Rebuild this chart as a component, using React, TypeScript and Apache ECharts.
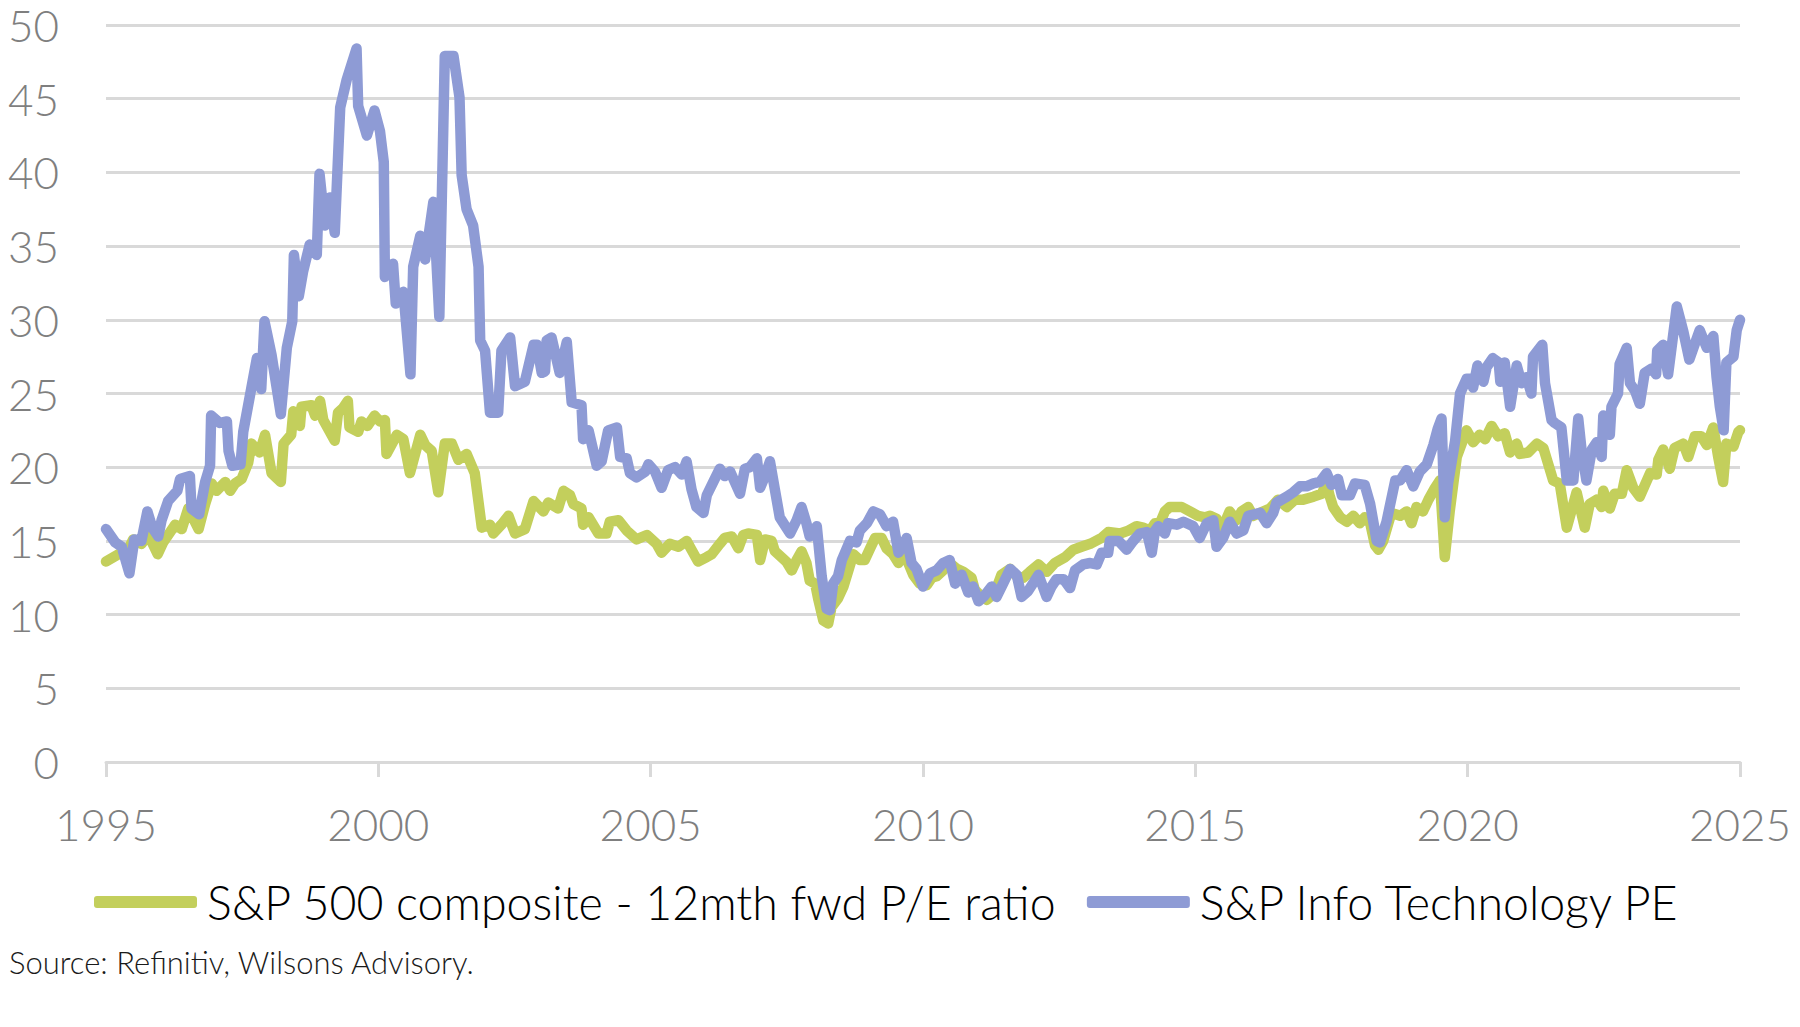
import React, { useEffect, useRef } from "react";
import * as echarts from "echarts";

// [decimal year, P/E]
const compositePE: [number, number][] = [
  [1995.0, 13.6], [1995.23, 14.1], [1995.38, 14.2], [1995.5, 15.1], [1995.65, 14.8], [1995.78, 15.4],
  [1995.95, 14.1], [1996.05, 14.9], [1996.27, 16.1], [1996.39, 15.8], [1996.51, 17.2], [1996.7, 15.8],
  [1996.82, 17.5], [1996.94, 18.9], [1997.03, 18.4], [1997.19, 19.0], [1997.28, 18.4], [1997.37, 18.9],
  [1997.49, 19.2], [1997.61, 20.3], [1997.67, 21.6], [1997.82, 21.0], [1997.92, 22.2], [1998.04, 19.6],
  [1998.21, 19.0], [1998.26, 21.6], [1998.4, 22.2], [1998.44, 23.8], [1998.56, 22.8], [1998.59, 24.1],
  [1998.77, 24.2], [1998.84, 23.5], [1998.93, 24.5], [1998.99, 23.2], [1999.2, 21.8], [1999.26, 23.7],
  [1999.35, 24.0], [1999.44, 24.5], [1999.47, 22.7], [1999.63, 22.4], [1999.69, 23.1], [1999.8, 22.8],
  [1999.93, 23.5], [2000.03, 23.1], [2000.12, 23.2], [2000.15, 20.9], [2000.34, 22.2], [2000.46, 21.9],
  [2000.58, 19.6], [2000.77, 22.2], [2000.86, 21.5], [2000.98, 21.1], [2001.1, 18.3], [2001.22, 21.6],
  [2001.35, 21.6], [2001.47, 20.5], [2001.62, 20.9], [2001.77, 19.6], [2001.9, 15.9], [2002.05, 16.1],
  [2002.11, 15.5], [2002.26, 16.1], [2002.39, 16.7], [2002.51, 15.5], [2002.69, 15.8], [2002.85, 17.7],
  [2003.03, 17.0], [2003.12, 17.6], [2003.3, 17.2], [2003.4, 18.4], [2003.52, 18.1], [2003.58, 17.5],
  [2003.73, 17.2], [2003.76, 16.1], [2003.86, 16.6], [2004.04, 15.5], [2004.19, 15.5], [2004.25, 16.3],
  [2004.41, 16.4], [2004.56, 15.7], [2004.74, 15.1], [2004.93, 15.4], [2005.11, 14.8], [2005.2, 14.2],
  [2005.35, 14.8], [2005.51, 14.6], [2005.66, 15.0], [2005.75, 14.4], [2005.87, 13.6], [2006.03, 13.9],
  [2006.12, 14.1], [2006.27, 14.8], [2006.36, 15.2], [2006.49, 15.3], [2006.61, 14.5], [2006.7, 15.4],
  [2006.79, 15.5], [2006.95, 15.4], [2007.01, 13.7], [2007.1, 15.1], [2007.22, 15.0], [2007.28, 14.3],
  [2007.4, 13.9], [2007.49, 13.6], [2007.59, 13.0], [2007.68, 13.7], [2007.77, 14.3], [2007.86, 13.5],
  [2007.92, 12.3], [2008.02, 12.1], [2008.08, 11.0], [2008.17, 9.6], [2008.26, 9.4], [2008.32, 10.5],
  [2008.44, 11.1], [2008.54, 11.9], [2008.63, 13.0], [2008.72, 14.1], [2008.84, 13.7], [2008.93, 13.7],
  [2009.03, 14.5], [2009.12, 15.2], [2009.24, 15.2], [2009.33, 14.5], [2009.45, 14.1], [2009.55, 13.5],
  [2009.64, 14.1], [2009.73, 13.5], [2009.82, 12.7], [2009.94, 12.1], [2010.07, 12.0], [2010.16, 12.5],
  [2010.25, 12.6], [2010.37, 13.0], [2010.49, 13.5], [2010.62, 13.1], [2010.74, 12.9], [2010.89, 12.5],
  [2010.95, 11.7], [2011.08, 11.2], [2011.17, 11.0], [2011.32, 11.5], [2011.44, 12.7], [2011.6, 13.1],
  [2011.72, 12.6], [2011.84, 12.5], [2011.96, 12.9], [2012.12, 13.4], [2012.27, 12.9], [2012.42, 13.5],
  [2012.61, 13.9], [2012.76, 14.4], [2012.91, 14.6], [2013.07, 14.8], [2013.28, 15.2], [2013.4, 15.6],
  [2013.62, 15.5], [2013.77, 15.7], [2013.92, 16.0], [2014.04, 15.9], [2014.17, 15.7], [2014.26, 16.2],
  [2014.35, 16.2], [2014.44, 17.0], [2014.53, 17.3], [2014.75, 17.3], [2014.9, 17.0], [2015.05, 16.7],
  [2015.18, 16.6], [2015.27, 16.7], [2015.39, 16.5], [2015.48, 15.7], [2015.63, 17.0], [2015.76, 16.4],
  [2015.85, 17.0], [2015.97, 17.3], [2016.06, 16.7], [2016.19, 16.9], [2016.37, 17.2], [2016.52, 17.8],
  [2016.68, 17.3], [2016.83, 17.8], [2016.98, 17.8], [2017.17, 18.0], [2017.32, 18.2], [2017.41, 18.9],
  [2017.47, 18.0], [2017.53, 17.3], [2017.66, 16.6], [2017.78, 16.3], [2017.9, 16.7], [2018.02, 16.2],
  [2018.11, 16.6], [2018.21, 16.2], [2018.3, 14.7], [2018.36, 14.4], [2018.45, 15.0], [2018.6, 16.9],
  [2018.76, 16.7], [2018.88, 17.0], [2018.97, 16.2], [2019.06, 17.3], [2019.18, 17.0], [2019.28, 17.8],
  [2019.4, 18.6], [2019.49, 19.1], [2019.58, 13.9], [2019.67, 17.0], [2019.8, 20.7], [2019.89, 21.6],
  [2019.98, 22.5], [2020.1, 21.7], [2020.22, 22.2], [2020.32, 21.9], [2020.44, 22.8], [2020.56, 22.1],
  [2020.68, 22.3], [2020.78, 21.0], [2020.9, 21.6], [2020.96, 20.9], [2021.11, 21.0], [2021.27, 21.6],
  [2021.39, 21.3], [2021.48, 20.2], [2021.57, 19.1], [2021.69, 18.9], [2021.82, 15.9], [2022.0, 18.3],
  [2022.15, 15.9], [2022.24, 17.5], [2022.37, 17.8], [2022.46, 17.3], [2022.49, 18.4], [2022.61, 17.2],
  [2022.7, 18.2], [2022.83, 18.2], [2022.92, 19.8], [2023.04, 18.6], [2023.16, 18.0], [2023.35, 19.6],
  [2023.47, 19.5], [2023.5, 20.5], [2023.59, 21.2], [2023.71, 19.9], [2023.8, 21.3], [2023.96, 21.6],
  [2024.05, 20.7], [2024.17, 22.1], [2024.29, 22.1], [2024.39, 21.5], [2024.51, 22.7], [2024.6, 20.7],
  [2024.69, 19.0], [2024.75, 21.6], [2024.88, 21.4], [2024.97, 22.4], [2025.0, 22.5],
];

const techPE: [number, number][] = [
  [1995.0, 15.8], [1995.17, 14.9], [1995.29, 14.6], [1995.43, 12.8], [1995.52, 15.1], [1995.65, 15.0],
  [1995.76, 17.0], [1995.85, 15.9], [1995.96, 15.3], [1996.02, 16.4], [1996.14, 17.7], [1996.31, 18.4],
  [1996.36, 19.2], [1996.54, 19.4], [1996.57, 17.2], [1996.71, 16.8], [1996.82, 19.0], [1996.91, 20.1],
  [1996.93, 23.5], [1997.09, 23.0], [1997.22, 23.1], [1997.25, 21.1], [1997.32, 20.1], [1997.47, 20.2],
  [1997.52, 22.4], [1997.61, 24.2], [1997.77, 27.4], [1997.85, 25.3], [1997.91, 29.9], [1998.04, 27.6],
  [1998.21, 23.6], [1998.32, 28.1], [1998.42, 29.9], [1998.45, 34.4], [1998.54, 31.6], [1998.62, 33.3],
  [1998.74, 35.1], [1998.87, 34.4], [1998.92, 39.9], [1999.02, 36.4], [1999.11, 38.3], [1999.2, 35.9],
  [1999.3, 44.4], [1999.42, 46.3], [1999.6, 48.4], [1999.63, 44.5], [1999.79, 42.5], [1999.93, 44.2],
  [2000.03, 42.8], [2000.1, 40.7], [2000.12, 32.9], [2000.27, 33.8], [2000.32, 31.1], [2000.46, 31.9],
  [2000.59, 26.3], [2000.64, 33.6], [2000.77, 35.7], [2000.86, 34.1], [2001.01, 38.0], [2001.12, 30.2],
  [2001.22, 47.9], [2001.38, 47.9], [2001.49, 45.1], [2001.53, 39.8], [2001.62, 37.5], [2001.74, 36.4],
  [2001.84, 33.6], [2001.87, 28.6], [2001.96, 27.9], [2002.05, 23.7], [2002.2, 23.7], [2002.26, 27.9],
  [2002.42, 28.8], [2002.51, 25.5], [2002.69, 25.8], [2002.85, 28.3], [2002.91, 28.3], [2003.0, 26.4],
  [2003.06, 26.5], [2003.09, 28.6], [2003.18, 28.8], [2003.33, 26.4], [2003.46, 28.5], [2003.55, 24.4],
  [2003.73, 24.2], [2003.76, 21.9], [2003.86, 22.5], [2004.01, 20.1], [2004.1, 20.4], [2004.22, 22.5],
  [2004.38, 22.7], [2004.44, 20.7], [2004.56, 20.6], [2004.62, 19.6], [2004.74, 19.3], [2004.9, 19.7],
  [2004.96, 20.2], [2005.08, 19.7], [2005.2, 18.6], [2005.32, 19.8], [2005.45, 20.0], [2005.57, 19.5],
  [2005.66, 20.4], [2005.75, 18.5], [2005.84, 17.3], [2005.97, 16.9], [2006.03, 18.1], [2006.15, 19.0],
  [2006.27, 19.9], [2006.36, 19.4], [2006.46, 19.7], [2006.64, 18.2], [2006.73, 19.9], [2006.82, 20.0],
  [2006.95, 20.6], [2007.01, 18.6], [2007.1, 19.4], [2007.19, 20.4], [2007.28, 18.5], [2007.37, 16.6],
  [2007.56, 15.5], [2007.68, 16.4], [2007.77, 17.3], [2007.86, 16.2], [2007.92, 15.3], [2008.05, 16.0],
  [2008.14, 12.6], [2008.23, 10.4], [2008.29, 10.3], [2008.35, 12.1], [2008.44, 12.6], [2008.51, 13.7],
  [2008.66, 15.0], [2008.78, 14.9], [2008.84, 15.7], [2008.97, 16.2], [2009.09, 17.0], [2009.21, 16.8],
  [2009.33, 16.0], [2009.45, 16.3], [2009.55, 14.2], [2009.64, 14.7], [2009.7, 15.2], [2009.79, 13.5],
  [2009.88, 13.1], [2010.0, 11.9], [2010.13, 12.8], [2010.25, 13.0], [2010.37, 13.5], [2010.49, 13.7],
  [2010.59, 12.1], [2010.71, 12.7], [2010.83, 11.5], [2010.92, 11.9], [2011.02, 10.9], [2011.11, 11.2],
  [2011.26, 11.9], [2011.35, 11.2], [2011.47, 12.1], [2011.6, 13.1], [2011.72, 12.7], [2011.81, 11.2],
  [2011.93, 11.6], [2012.12, 12.7], [2012.27, 11.2], [2012.36, 11.9], [2012.45, 12.4], [2012.58, 12.4],
  [2012.7, 11.8], [2012.79, 13.0], [2012.94, 13.4], [2013.07, 13.5], [2013.19, 13.4], [2013.28, 14.2],
  [2013.4, 14.2], [2013.43, 15.0], [2013.59, 15.0], [2013.74, 14.4], [2013.86, 15.0], [2013.98, 15.5],
  [2014.11, 15.6], [2014.2, 14.2], [2014.26, 15.7], [2014.32, 16.0], [2014.44, 15.5], [2014.5, 16.2],
  [2014.66, 16.1], [2014.78, 16.3], [2014.96, 16.0], [2015.08, 15.2], [2015.21, 16.2], [2015.33, 16.4],
  [2015.39, 14.6], [2015.51, 15.2], [2015.63, 16.3], [2015.76, 15.5], [2015.88, 15.7], [2015.97, 16.7],
  [2016.19, 16.9], [2016.31, 16.2], [2016.43, 16.9], [2016.49, 17.6], [2016.68, 18.0], [2016.8, 18.3],
  [2016.92, 18.7], [2017.04, 18.7], [2017.17, 18.9], [2017.29, 19.0], [2017.41, 19.6], [2017.5, 18.8],
  [2017.62, 19.2], [2017.69, 18.1], [2017.84, 18.1], [2017.93, 18.9], [2018.11, 18.8], [2018.21, 17.5],
  [2018.33, 15.0], [2018.39, 14.9], [2018.51, 16.3], [2018.67, 19.1], [2018.76, 19.1], [2018.88, 19.8],
  [2019.0, 18.7], [2019.12, 19.7], [2019.25, 20.2], [2019.37, 21.5], [2019.45, 22.6], [2019.52, 23.3],
  [2019.58, 16.6], [2019.64, 18.9], [2019.77, 21.8], [2019.86, 25.0], [2019.98, 26.0], [2020.07, 26.0],
  [2020.1, 25.4], [2020.18, 26.9], [2020.29, 25.8], [2020.35, 26.8], [2020.46, 27.4], [2020.57, 27.1],
  [2020.6, 25.8], [2020.68, 27.1], [2020.78, 24.1], [2020.9, 26.9], [2020.99, 25.7], [2021.08, 26.1],
  [2021.17, 25.0], [2021.2, 27.5], [2021.37, 28.3], [2021.42, 25.7], [2021.54, 23.2], [2021.6, 23.0],
  [2021.72, 22.7], [2021.82, 19.1], [2021.94, 19.1], [2022.03, 23.3], [2022.09, 21.2], [2022.18, 19.1],
  [2022.28, 21.2], [2022.37, 21.7], [2022.46, 20.7], [2022.49, 23.5], [2022.61, 22.2], [2022.64, 24.1],
  [2022.76, 25.0], [2022.79, 27.0], [2022.92, 28.1], [2022.98, 25.7], [2023.07, 25.2], [2023.16, 24.3],
  [2023.25, 26.4], [2023.38, 26.7], [2023.46, 26.3], [2023.48, 27.9], [2023.59, 28.3], [2023.68, 26.3],
  [2023.84, 30.9], [2023.96, 29.2], [2024.07, 27.3], [2024.26, 29.3], [2024.39, 28.1], [2024.51, 28.9],
  [2024.57, 26.1], [2024.63, 24.1], [2024.7, 22.5], [2024.75, 27.1], [2024.88, 27.5], [2024.94, 29.3],
  [2025.0, 30.0],
];

const seriesNames = ["S&P 500 composite - 12mth fwd P/E ratio", "S&P Info Technology PE"];
const seriesColors = ["#C3CF5C", "#8E9BD5"];
const xRange = [1995, 2025];
const xStep = 5;
const yRange = [0, 50];
const yStep = 5;
const sourceNote = "Source: Refinitiv, Wilsons Advisory.";

const FONT = "Lato, 'Open Sans', 'Noto Sans', sans-serif";

export default function App() {
  const ref = useRef<HTMLDivElement>(null);
  useEffect(() => {
    if (!ref.current) return;
    const chart = echarts.init(ref.current, undefined, { renderer: "svg" });
    const mkSeries = (i: number, data: [number, number][]) => ({
      name: seriesNames[i],
      type: "line",
      data,
      showSymbol: false,
      symbol: "none",
      smooth: false,
      color: seriesColors[i],
      itemStyle: { color: seriesColors[i] },
      lineStyle: { color: seriesColors[i], width: 10.5, cap: "round", join: "round" },
      emphasis: { disabled: true },
      z: 2 + i,
    });
    chart.setOption({
      animation: false,
      backgroundColor: "#ffffff",
      grid: { left: 106, right: 60, top: 25, bottom: 265, containLabel: false },
      xAxis: {
        type: "value",
        min: xRange[0],
        max: xRange[1],
        interval: xStep,
        axisLine: { show: true, lineStyle: { color: "#D9D9D9", width: 3 } },
        axisTick: { show: true, length: 15, lineStyle: { color: "#D9D9D9", width: 3 } },
        splitLine: { show: false },
        axisLabel: {
          color: "#7F7F7F",
          fontSize: 44,
          fontWeight: 300,
          fontFamily: FONT,
          margin: 40,
          formatter: (v: number) => String(Math.round(v)),
        },
      },
      yAxis: {
        type: "value",
        min: yRange[0],
        max: yRange[1],
        interval: yStep,
        axisLine: { show: false },
        axisTick: { show: false },
        splitLine: { show: true, lineStyle: { color: "#D9D9D9", width: 3 } },
        axisLabel: { color: "#7F7F7F", fontSize: 44, fontWeight: 300, fontFamily: FONT, margin: 47 },
      },
      legend: {
        show: true,
        left: 94,
        top: 876,
        padding: 0,
        itemWidth: 103,
        itemHeight: 12,
        itemGap: 30,
        icon: "roundRect",
        textStyle: {
          fontSize: 46.5,
          fontWeight: 300,
          color: "#000000",
          fontFamily: FONT,
          padding: [0, 0, 0, 5],
          lineHeight: 52,
        },
        data: seriesNames,
      },
      graphic: [
        {
          type: "text",
          left: 9,
          top: 946,
          style: { text: sourceNote, fontSize: 31, fontWeight: 300, fill: "#1A1A1A", fontFamily: FONT },
        },
      ],
      series: [mkSeries(0, compositePE), mkSeries(1, techPE)],
    });
    return () => chart.dispose();
  }, []);
  return (
    <div
      ref={ref}
      style={{ position: "absolute", left: 0, top: 0, width: 1800, height: 1027, background: "#fff" }}
    />
  );
}
